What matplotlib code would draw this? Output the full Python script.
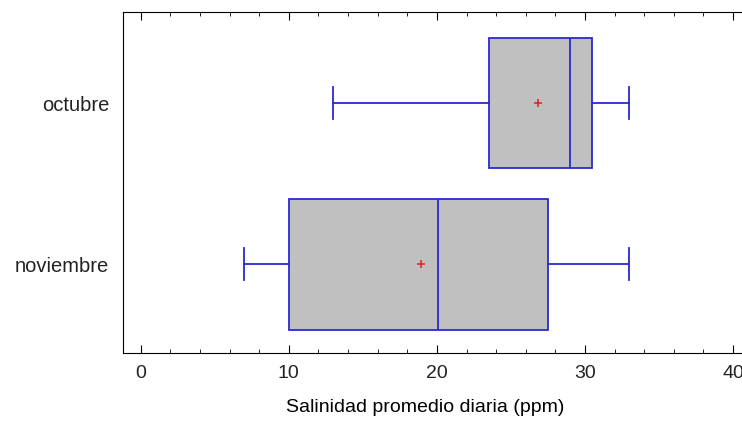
import matplotlib
matplotlib.use("Agg")
import matplotlib.pyplot as plt
from matplotlib.ticker import MultipleLocator

plt.rcParams['font.family'] = ['Liberation Sans', 'DejaVu Sans']
plt.rcParams['text.color'] = '#222222'
plt.rcParams['xtick.labelcolor'] = '#222222'
plt.rcParams['ytick.labelcolor'] = '#222222'

meses = ["noviembre", "octubre"]
minimo = [7.0, 13.0]
q1 = [10.0, 23.5]
mediana = [20.1, 29.0]
q3 = [27.5, 30.5]
maximo = [33.0, 33.0]
media = [18.9, 26.8]

stats = []
for i in range(len(meses)):
    stats.append(dict(label=meses[i], whislo=minimo[i], q1=q1[i], med=mediana[i],
                      q3=q3[i], whishi=maximo[i], mean=media[i], fliers=[]))

fig = plt.figure(figsize=(7.42, 4.21), dpi=100)
ax = fig.add_axes([123/742, 68/421, 1 - 123/742, 341/421])

azul = "#2a2ad0"
ax.bxp(stats, positions=[1, 2], widths=0.81, vert=False, patch_artist=True,
       showmeans=True, showfliers=False,
       boxprops=dict(facecolor="#c0c0c0", edgecolor=azul, linewidth=1.3),
       medianprops=dict(color=azul, linewidth=1.3),
       whiskerprops=dict(color=azul, linewidth=1.3),
       capprops=dict(color=azul, linewidth=1.3),
       capwidths=0.2,
       meanprops=dict(marker="+", markeredgecolor="#dd2020", markersize=6, markeredgewidth=1.1))

ax.set_xlim(-1.2, 40.6)
ax.set_ylim(0.45, 2.565)
ax.xaxis.set_major_locator(MultipleLocator(10))
ax.xaxis.set_minor_locator(MultipleLocator(2))
ax.tick_params(axis="x", which="major", direction="in", length=6, top=True, labelsize=14, pad=9)
ax.tick_params(axis="x", which="minor", direction="in", length=3, top=True)
ax.tick_params(axis="y", length=0, labelsize=14.5, pad=10)
ax.spines["right"].set_visible(False)
ax.set_xlabel("Salinidad promedio diaria (ppm)", fontsize=14)
ax.xaxis.set_label_coords(0.488, -0.135)

fig.savefig("out.png", dpi=100)
